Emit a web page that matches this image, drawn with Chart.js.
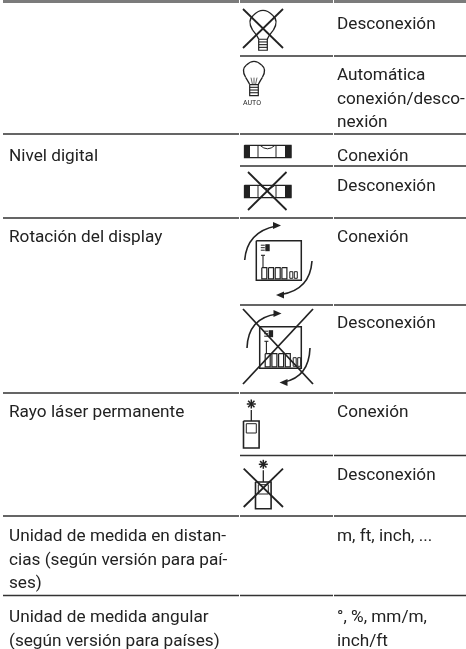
<!DOCTYPE html>
<html lang="es">
<head>
<meta charset="utf-8">
<title>Tabla de funciones</title>
<script src="https://cdn.jsdelivr.net/npm/chart.js@4/dist/chart.umd.min.js"></script>
<style>
  html, body { margin: 0; padding: 0; background: #fff; }
  canvas { display: block; }
</style>
</head>
<body>
<canvas id="chart" width="466" height="649"></canvas>
<script>
  // Datos: limites de fila y textos de cada columna
  const limitesCompletos = [134, 218, 393, 516, 595.5];
  const limitesParciales = [56, 166, 305, 455.5];
  const textosFuncion = [
    { base: 160.5, lineas: ['Nivel digital'] },
    { base: 242, lineas: ['Rotación del display'] },
    { base: 417, lineas: ['Rayo láser permanente'] },
    { base: 541, lineas: ['Unidad de medida en distan-', 'cias (según versión para paí-', 'ses)'] },
    { base: 622, lineas: ['Unidad de medida angular', '(según versión para países)'] }
  ];
  const textosEstado = [
    { base: 29, lineas: ['Desconexión'] },
    { base: 80, lineas: ['Automática', 'conexión/desco-', 'nexión'] },
    { base: 160.5, lineas: ['Conexión'] },
    { base: 191, lineas: ['Desconexión'] },
    { base: 242, lineas: ['Conexión'] },
    { base: 328, lineas: ['Desconexión'] },
    { base: 417, lineas: ['Conexión'] },
    { base: 480, lineas: ['Desconexión'] },
    { base: 541, lineas: ['m, ft, inch, ...'] },
    { base: 622, lineas: ['°, %, mm/m,', 'inch/ft'] }
  ];

  // Columnas de la tabla
  const columnas = { inicio: 3, icono: 240, estado: 334, fin: 466 };
  const margenFuncion = 9;
  const margenEstado = 337;
  const interlinea = 23.6;
  const colorTexto = '#222';
  const colorRaya = '#333';
  const fuente = '17.2px Roboto';

  // Una raya horizontal, cortada en cada columna
  function crearRaya(y, desde, color, grosor) {
    const puntos = [];
    if (desde === columnas.inicio) {
      puntos.push({ x: columnas.inicio, y: y }, { x: columnas.icono - 1, y: y }, { x: null, y: null });
    }
    puntos.push({ x: columnas.icono, y: y }, { x: columnas.estado - 1, y: y }, { x: null, y: null });
    puntos.push({ x: columnas.estado, y: y }, { x: columnas.fin, y: y });
    return {
      type: 'scatter',
      data: puntos,
      showLine: true,
      spanGaps: false,
      borderColor: color,
      borderWidth: grosor,
      pointRadius: 0
    };
  }

  function generarRayas() {
    const rayas = [crearRaya(1.5, columnas.inicio, '#7b7b7b', 3)];
    for (let y of limitesCompletos) {
      rayas.push(crearRaya(y, columnas.inicio, colorRaya, 1.3));
    }
    for (let y of limitesParciales) {
      rayas.push(crearRaya(y, columnas.icono, colorRaya, 1.3));
    }
    return rayas;
  }

  // Funciones de dibujo de los iconos, en unidades de las escalas
  function trazar(ctx, escalas, puntos, grosor) {
    ctx.lineWidth = grosor;
    ctx.beginPath();
    puntos.forEach(function(p, i) {
      const px = escalas.x.getPixelForValue(p[0]);
      const py = escalas.y.getPixelForValue(p[1]);
      if (i === 0) ctx.moveTo(px, py); else ctx.lineTo(px, py);
    });
    ctx.stroke();
  }

  function rectangulo(ctx, escalas, x1, y1, x2, y2, grosor) {
    trazar(ctx, escalas, [[x1, y1], [x2, y1], [x2, y2], [x1, y2], [x1, y1]], grosor);
  }

  function relleno(ctx, escalas, x1, y1, x2, y2) {
    const px = escalas.x.getPixelForValue(x1);
    const py = escalas.y.getPixelForValue(y1);
    ctx.fillRect(px, py, escalas.x.getPixelForValue(x2) - px, escalas.y.getPixelForValue(y2) - py);
  }

  function curva(ctx, escalas, a, c, b, grosor) {
    ctx.lineWidth = grosor;
    ctx.beginPath();
    ctx.moveTo(escalas.x.getPixelForValue(a[0]), escalas.y.getPixelForValue(a[1]));
    ctx.quadraticCurveTo(
      escalas.x.getPixelForValue(c[0]), escalas.y.getPixelForValue(c[1]),
      escalas.x.getPixelForValue(b[0]), escalas.y.getPixelForValue(b[1]));
    ctx.stroke();
  }

  function cruz(ctx, escalas, x1, y1, x2, y2) {
    trazar(ctx, escalas, [[x1, y1], [x2, y2]], 1.8);
    trazar(ctx, escalas, [[x2, y1], [x1, y2]], 1.8);
  }

  // Bombilla: cx es el centro, arriba la parte superior del vidrio
  function bombilla(ctx, escalas, cx, arriba, r, filamento) {
    const ancla = arriba + r;
    const cuello = arriba + r * 2.05;
    const base = arriba + r * 2.25;
    const fin = base + 11;
    curva(ctx, escalas, [cx - 4.3, base], [cx - 5, cuello], [cx - r * 0.8, ancla + r * 0.55], 1.3);
    curva(ctx, escalas, [cx - r * 0.8, ancla + r * 0.55], [cx - r * 1.25, ancla - r * 0.2], [cx - r * 0.72, ancla - r * 0.62], 1.3);
    curva(ctx, escalas, [cx - r * 0.72, ancla - r * 0.62], [cx, arriba - r * 0.32], [cx + r * 0.72, ancla - r * 0.62], 1.3);
    curva(ctx, escalas, [cx + r * 0.72, ancla - r * 0.62], [cx + r * 1.25, ancla - r * 0.2], [cx + r * 0.8, ancla + r * 0.55], 1.3);
    curva(ctx, escalas, [cx + r * 0.8, ancla + r * 0.55], [cx + 5, cuello], [cx + 4.3, base], 1.3);
    rectangulo(ctx, escalas, cx - 4.3, base, cx + 4.3, fin, 1.2);
    for (let i = 1; i < 4; i++) {
      const y = base + i * 2.7;
      trazar(ctx, escalas, [[cx - 4.3, y], [cx + 4.3, y]], 1.1);
    }
    if (filamento) {
      trazar(ctx, escalas, [[cx - 1.5, base], [cx - 3, base - 7]], 0.7);
      trazar(ctx, escalas, [[cx, base], [cx, base - 7]], 0.7);
      trazar(ctx, escalas, [[cx + 1.5, base], [cx + 3, base - 7]], 0.7);
    }
  }

  // Nivel de burbuja con sus dos bloques negros
  function nivel(ctx, escalas, arriba) {
    const abajo = arriba + 12.4;
    rectangulo(ctx, escalas, 244.5, arriba, 291, abajo, 1.3);
    relleno(ctx, escalas, 244, arriba, 250, abajo);
    relleno(ctx, escalas, 285, arriba, 291.3, abajo);
    trazar(ctx, escalas, [[258, arriba], [258, abajo]], 1);
    trazar(ctx, escalas, [[276, arriba], [276, abajo]], 1);
    curva(ctx, escalas, [260, arriba], [267.5, arriba + 7], [275, arriba], 1);
  }

  // Pantalla del aparato con sus arcos de giro
  function pantalla(ctx, escalas, x1, y1, x2, y2) {
    rectangulo(ctx, escalas, x1, y1, x2, y2, 1.5);
    relleno(ctx, escalas, x1 + 9, y1 + 3.5, x1 + 13.4, y1 + 10.5);
    for (let i = 0; i < 3; i++) {
      trazar(ctx, escalas, [[x1 + 4.5, y1 + 4.5 + i * 2.5], [x1 + 8.5, y1 + 4.5 + i * 2.5]], 1);
    }
    trazar(ctx, escalas, [[x1 + 6.7, y1 + 14.6], [x1 + 6.7, y1 + 26.6]], 1.1);
    trazar(ctx, escalas, [[x1 + 4.7, y1 + 14.6], [x1 + 8.7, y1 + 14.6]], 1.1);
    for (let i = 0; i < 4; i++) {
      rectangulo(ctx, escalas, x1 + 5.5 + i * 6.7, y1 + 27, x1 + 10.5 + i * 6.7, y2 - 1.5, 1.2);
    }
    rectangulo(ctx, escalas, x1 + 33.5, y1 + 31, x1 + 36.5, y2 - 2, 1);
    rectangulo(ctx, escalas, x1 + 38, y1 + 31, x1 + 41, y2 - 2, 1);
  }

  function flecha(ctx, escalas, px, py, dx) {
    ctx.beginPath();
    ctx.moveTo(escalas.x.getPixelForValue(px), escalas.y.getPixelForValue(py));
    ctx.lineTo(escalas.x.getPixelForValue(px - dx * 8), escalas.y.getPixelForValue(py - 3.5));
    ctx.lineTo(escalas.x.getPixelForValue(px - dx * 8), escalas.y.getPixelForValue(py + 3.5));
    ctx.closePath();
    ctx.fill();
  }

  // Aparato con rayo laser
  function laser(ctx, escalas, cx, estrella, arriba, abajo) {
    for (let a = 0; a < 4; a++) {
      const ang = a * Math.PI / 4;
      const dx = Math.cos(ang) * 4.5;
      const dy = Math.sin(ang) * 4.5;
      trazar(ctx, escalas, [[cx - dx, estrella - dy], [cx + dx, estrella + dy]], 1.5);
    }
    trazar(ctx, escalas, [[cx, estrella + 6], [cx, arriba]], 1.3);
    rectangulo(ctx, escalas, cx - 7.8, arriba, cx + 7.8, abajo, 1.6);
    rectangulo(ctx, escalas, cx - 5, arriba + 2.7, cx + 5, arriba + 12, 1);
  }

  const dibujarTabla = {
    id: 'dibujarTabla',
    afterDatasetsDraw: function(chart) {
      const ctx = chart.ctx;
      const escalas = chart.scales;
      ctx.save();

      // Textos de las columnas
      ctx.font = fuente;
      ctx.fillStyle = colorTexto;
      ctx.textBaseline = 'alphabetic';
      function escribir(bloques, margen) {
        for (let b of bloques) {
          b.lineas.forEach(function(linea, i) {
            ctx.fillText(linea, escalas.x.getPixelForValue(margen), escalas.y.getPixelForValue(b.base + i * interlinea));
          });
        }
      }
      escribir(textosFuncion, margenFuncion);
      escribir(textosEstado, margenEstado);

      // Iconos
      ctx.strokeStyle = '#222';
      ctx.fillStyle = '#222';
      ctx.lineCap = 'butt';
      bombilla(ctx, escalas, 263, 10, 13, false);
      cruz(ctx, escalas, 243, 9, 283, 48);
      bombilla(ctx, escalas, 254, 61, 10.5, true);
      ctx.font = '7px Roboto';
      ctx.fillText('AUTO', 243, 105);
      nivel(ctx, escalas, 145.3);
      nivel(ctx, escalas, 185.3);
      cruz(ctx, escalas, 248, 172, 286.5, 210);

      pantalla(ctx, escalas, 256.3, 240.7, 301.3, 280.3);
      curva(ctx, escalas, [244.7, 260], [247, 232], [276, 226], 1.6);
      flecha(ctx, escalas, 281, 225.5, 1);
      curva(ctx, escalas, [312, 261], [310, 290], [281, 294.5], 1.6);
      flecha(ctx, escalas, 276, 295, -1);

      pantalla(ctx, escalas, 259.7, 326.7, 301.3, 368.3);
      curva(ctx, escalas, [247, 348], [248, 318], [277, 314], 1.6);
      flecha(ctx, escalas, 281.5, 313.5, 1);
      curva(ctx, escalas, [310, 348], [309, 377], [284, 382], 1.6);
      flecha(ctx, escalas, 279.5, 382.5, -1);
      cruz(ctx, escalas, 243, 309, 313, 384);

      laser(ctx, escalas, 251.3, 404, 421, 448);
      laser(ctx, escalas, 263.3, 464.3, 482, 508.7);
      cruz(ctx, escalas, 243.7, 468.7, 283, 507);
      ctx.restore();
    }
  };

  // Configuracion de la grafica: las escalas cubren toda la pagina
  function generarGrafica() {
    const ctx = document.getElementById('chart').getContext('2d');
    window.grafica = new Chart(ctx, {
      type: 'scatter',
      data: { datasets: generarRayas() },
      options: {
        responsive: false,
        animation: false,
        layout: { padding: 0 },
        plugins: { legend: { display: false }, tooltip: { enabled: false } },
        scales: {
          x: { type: 'linear', min: 0, max: 466, display: false },
          y: { type: 'linear', min: 0, max: 649, reverse: true, display: false }
        }
      },
      plugins: [dibujarTabla]
    });
  }

  window.onload = function() {
    generarGrafica();
  };
</script>
</body>
</html>
